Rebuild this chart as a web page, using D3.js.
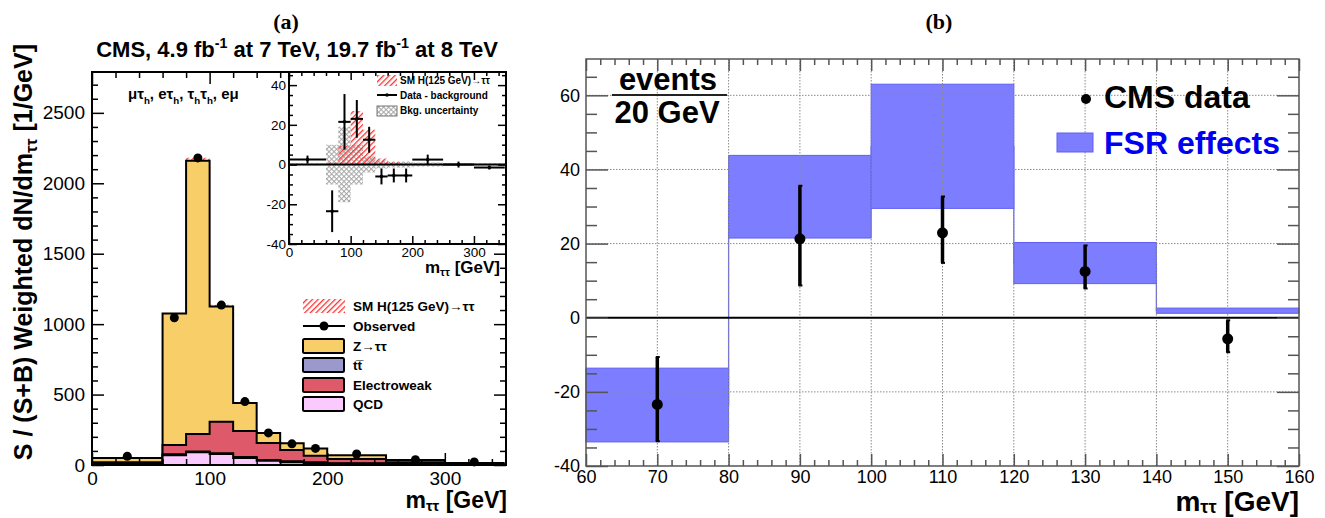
<!DOCTYPE html>
<html>
<head>
<meta charset="utf-8">
<script src="https://cdnjs.cloudflare.com/ajax/libs/d3/7.8.5/d3.min.js"></script>
<style>
body { margin: 0; background: #fff; }
svg { display: block; font-family: "Liberation Sans", Arial, sans-serif; }
</style>
</head>
<body>
<svg id="chart" width="1325" height="518"></svg>
<script>
'use strict';

/* global d3 */

// ---- panel (a): S/(S+B) weighted m_tautau, one value per bin
var binEdges = [0, 60, 80, 100, 120, 140, 160, 180, 200, 250, 300, 350];
var qcd      = [8, 70, 90, 78, 50, 30, 20, 14, 8, 3, 1];
var ttbar    = [4, 6, 6, 6, 6, 6, 6, 5, 5, 4, 3];
var ewk      = [8, 66, 124, 223, 185, 120, 80, 47, 29, 13, 4];
var ztt      = [30, 933, 1940, 818, 199, 72, 49, 52, 28, 15, 7];
var signal   = [0, 4, 22, 12, 6, 2, 1, 0, 0, 0, 0];
var observed = [62, 1045, 2180, 1135, 450, 228, 150, 118, 78, 38, 22];
var mainYTicks = [0, 500, 1000, 1500, 2000, 2500];
var mainXTicks = [0, 100, 200, 300];

// inset: data - background
var insetSignal = [0, 1, 9.5, 27, 17.5, 3, 1, 0, 0, 0, 0];
var insetBkgUnc = [0.5, 10, 19, 10, 4, 2, 1.5, 1.5, 1, 0.5, 0.5];
var insetDiff   = [2.5, -23.5, 21.5, 23, 12.5, -6, -5.5, -5.5, 2.5, 0, -1.5];
var insetErr    = [2, 10.5, 14, 9.5, 6.5, 4, 3.5, 3.5, 2.5, 1.5, 1];
var insetYTicks = [-40, -20, 0, 20, 40];
var insetXTicks = [0, 100, 200, 300];

// ---- panel (b): events / 20 GeV, FSR effects band and CMS data
var fsrEdges = [60, 80, 100, 120, 140, 160];
var fsrLow   = [-33.5, 21.5, 29.5, 9.2, 1.2];
var fsrHigh  = [-13.6, 43.8, 63, 20.3, 2.6];
var cmsX     = [70, 90, 110, 130, 150];
var cmsY     = [-23.4, 21.3, 22.9, 12.5, -5.7];
var cmsLo    = [-33.3, 8.7, 14.8, 7.9, -9.3];
var cmsHi    = [-10.6, 35.6, 32.7, 19.5, -0.7];
var bXTicks  = [60, 70, 80, 90, 100, 110, 120, 130, 140, 150, 160];
var bYTicks  = [-40, -20, 0, 20, 40, 60];

var svg = d3.select("#chart");

var COL_ZTT = "#f8ce68";
var COL_TT = "#9b98cc";
var COL_EWK = "#de5a6a";
var COL_QCD = "#facaff";

function range(a, b, step) {
    return d3.range(a, b + step / 2, step);
}

// text with sub/superscript parts: [[text, "sub"|"sup"|null], ...]
function richText(textSel, parts, size, subShift) {
    var shift = 0;
    var sub = subShift == null ? 0.3 : subShift;
    parts.forEach(function (p) {
        var t = textSel.append("tspan").text(p[0]);
        var target = p[1] === "sub" ? size * sub : (p[1] === "sup" ? -size * 0.42 : 0);
        if (target !== shift) {
            t.attr("dy", target - shift);
            shift = target;
        }
        if (p[1]) {
            t.style("font-size", (size * 0.65) + "px");
        }
    });
    return textSel;
}

function addAxis(g, axis, tx, ty, fontSize, color) {
    var ax = g.append("g")
        .attr("transform", "translate(" + tx + "," + ty + ")")
        .call(axis)
        .attr("font-family", null)
        .attr("font-size", fontSize);
    ax.select(".domain").remove();
    ax.selectAll("line").attr("stroke", color).attr("stroke-width", 1.5);
    ax.selectAll("text").attr("fill", "#000");
    return ax;
}

// major + minor inward ticks on all four sides of a frame
function frameTicks(g, x, y, box, opt) {
    var xMinor = opt.xMinor.filter(function (v) { return opt.xMajor.indexOf(v) < 0; });
    var yMinor = opt.yMinor.filter(function (v) { return opt.yMajor.indexOf(v) < 0; });
    var fmt = function (d) { return String(d); };

    addAxis(g, d3.axisBottom(x).tickValues(opt.xMajor).tickSizeInner(-opt.xLen).tickSizeOuter(0)
        .tickPadding(opt.xPad).tickFormat(fmt), 0, box.bottom, opt.font, opt.color);
    addAxis(g, d3.axisBottom(x).tickValues(xMinor).tickSizeInner(-opt.xLen / 2).tickSizeOuter(0)
        .tickFormat(""), 0, box.bottom, opt.font, opt.color);
    addAxis(g, d3.axisTop(x).tickValues(opt.xMajor).tickSizeInner(-opt.xLen).tickSizeOuter(0)
        .tickFormat(""), 0, box.top, opt.font, opt.color);
    addAxis(g, d3.axisTop(x).tickValues(xMinor).tickSizeInner(-opt.xLen / 2).tickSizeOuter(0)
        .tickFormat(""), 0, box.top, opt.font, opt.color);

    addAxis(g, d3.axisLeft(y).tickValues(opt.yMajor).tickSizeInner(-opt.yLen).tickSizeOuter(0)
        .tickPadding(opt.yPad).tickFormat(fmt), box.left, 0, opt.font, opt.color);
    addAxis(g, d3.axisLeft(y).tickValues(yMinor).tickSizeInner(-opt.yLen / 2).tickSizeOuter(0)
        .tickFormat(""), box.left, 0, opt.font, opt.color);
    addAxis(g, d3.axisRight(y).tickValues(opt.yMajor).tickSizeInner(-opt.yLen).tickSizeOuter(0)
        .tickFormat(""), box.right, 0, opt.font, opt.color);
    addAxis(g, d3.axisRight(y).tickValues(yMinor).tickSizeInner(-opt.yLen / 2).tickSizeOuter(0)
        .tickFormat(""), box.right, 0, opt.font, opt.color);
}

// step points for a binned histogram (last value repeated at the upper edge)
function stepPoints(edges, lo, hi) {
    return edges.map(function (e, i) {
        var k = Math.min(i, lo.length - 1);
        return {x: e, y0: lo[k], y1: hi[k]};
    });
}

function defs() {
    var d = svg.append("defs");
    // red "////" hatch
    var red = d.append("pattern").attr("id", "redHatch")
        .attr("patternUnits", "userSpaceOnUse").attr("width", 4).attr("height", 4)
        .attr("patternTransform", "rotate(45)");
    red.append("rect").attr("x", 0).attr("y", 0).attr("width", 1.3).attr("height", 4).attr("fill", "#ff3030");

    // grey cross hatch
    var grey = d.append("pattern").attr("id", "greyHatch")
        .attr("patternUnits", "userSpaceOnUse").attr("width", 3.5).attr("height", 3.5)
        .attr("patternTransform", "rotate(45)");
    grey.append("rect").attr("x", 0).attr("y", 0).attr("width", 1).attr("height", 3.5).attr("fill", "#a5a5a5");
    grey.append("rect").attr("x", 0).attr("y", 0).attr("width", 3.5).attr("height", 1).attr("fill", "#a5a5a5");
}

function drawPanelA() {
    var box = {left: 92, right: 506, top: 72, bottom: 465};
    var x = d3.scaleLinear().domain([0, 352]).range([box.left, box.right]);
    var y = d3.scaleLinear().domain([0, 2790]).range([box.bottom, box.top]);
    var g = svg.append("g").attr("class", "panel-a");

    g.append("text").attr("x", 286).attr("y", 29).attr("text-anchor", "middle")
        .style("font-family", "'Liberation Serif', 'Times New Roman', serif")
        .style("font-weight", "bold").style("font-size", "22px").text("(a)");

    richText(g.append("text").attr("x", 297).attr("y", 57).attr("text-anchor", "middle")
        .style("font-weight", "bold").style("font-size", "22px"),
        [["CMS, 4.9 fb", null], ["-1", "sup"], [" at 7 TeV, 19.7 fb", null], ["-1", "sup"], [" at 8 TeV", null]], 22);

    // stacked backgrounds + signal
    var rows = qcd.map(function (v, i) {
        return {qcd: v, tt: ttbar[i], ewk: ewk[i], ztt: ztt[i], sig: signal[i]};
    });
    var series = d3.stack().keys(["qcd", "tt", "ewk", "ztt", "sig"])(rows);
    var fills = {qcd: COL_QCD, tt: COL_TT, ewk: COL_EWK, ztt: COL_ZTT, sig: "url(#redHatch)"};

    var area = d3.area().curve(d3.curveStepAfter)
        .x(function (d) { return x(d.x); })
        .y0(function (d) { return y(d.y0); })
        .y1(function (d) { return y(d.y1); });

    // draw from the top layer down so each outline stays visible
    series.slice().reverse().forEach(function (s) {
        var lo = s.map(function (d) { return d[0]; });
        var hi = s.map(function (d) { return d[1]; });
        var pts = stepPoints(binEdges, s.key === "sig" ? lo : lo.map(function () { return 0; }), hi);
        g.append("path")
            .attr("d", area(pts))
            .attr("fill", fills[s.key])
            .attr("stroke", s.key === "sig" ? "none" : "#000")
            .attr("stroke-width", 2);
    });

    // observed points
    g.selectAll("circle.obs").data(observed).enter()
        .append("circle").attr("class", "obs")
        .attr("cx", function (d, i) { return x((binEdges[i] + binEdges[i + 1]) / 2); })
        .attr("cy", function (d) { return y(d); })
        .attr("r", 4.5).attr("fill", "#000");

    frameTicks(g, x, y, box, {
        xMajor: mainXTicks, xMinor: range(0, 340, 20), yMajor: mainYTicks, yMinor: range(0, 2700, 100),
        xLen: 12, yLen: 12, xPad: 7, yPad: 7, font: 19, color: "#000"
    });
    g.append("rect").attr("x", box.left).attr("y", box.top)
        .attr("width", box.right - box.left).attr("height", box.bottom - box.top)
        .attr("fill", "none").attr("stroke", "#000").attr("stroke-width", 2);

    // channel label
    richText(g.append("text").attr("x", 128).attr("y", 99)
        .style("font-weight", "bold").style("font-size", "15px"),
        [["\u03bc\u03c4", null], ["h", "sub"], [", e\u03c4", null], ["h", "sub"], [", \u03c4", null], ["h", "sub"],
            ["\u03c4", null], ["h", "sub"], [", e\u03bc", null]], 15);

    // axis titles
    richText(g.append("text").attr("transform", "translate(32,44) rotate(-90)").attr("text-anchor", "end")
        .style("font-weight", "bold").style("font-size", "25px"),
        [["S / (S+B) Weighted dN/dm", null], ["\u03c4\u03c4", "sub"], [" [1/GeV]", null]], 25, 0.2);
    richText(g.append("text").attr("x", 507).attr("y", 508).attr("text-anchor", "end")
        .style("font-weight", "bold").style("font-size", "23px"),
        [["m", null], ["\u03c4\u03c4", "sub"], [" [GeV]", null]], 23, 0.12);

    // legend
    var lg = g.append("g").style("font-weight", "bold").style("font-size", "13.5px");
    lg.append("rect").attr("x", 303).attr("y", 299).attr("width", 42).attr("height", 14).attr("fill", "url(#redHatch)");
    lg.append("text").attr("x", 353).attr("y", 311).text("SM H(125 GeV)\u2192\u03c4\u03c4");
    lg.append("line").attr("x1", 303).attr("x2", 345).attr("y1", 326).attr("y2", 326)
        .attr("stroke", "#000").attr("stroke-width", 2);
    lg.append("circle").attr("cx", 324).attr("cy", 326).attr("r", 4.5).attr("fill", "#000");
    lg.append("text").attr("x", 353).attr("y", 331).text("Observed");
    var boxes = [
        {label: "Z\u2192\u03c4\u03c4", color: COL_ZTT, y: 339},
        {label: "tt\u0305", color: COL_TT, y: 358},
        {label: "Electroweak", color: COL_EWK, y: 378},
        {label: "QCD", color: COL_QCD, y: 397}
    ];
    boxes.forEach(function (b) {
        lg.append("rect").attr("x", 303).attr("y", b.y).attr("width", 41).attr("height", 14).attr("rx", 1.5)
            .attr("fill", b.color).attr("stroke", "#000").attr("stroke-width", 2);
        lg.append("text").attr("x", 353).attr("y", b.y + 12).text(b.label);
    });
}

function drawInset() {
    var box = {left: 289, right: 506, top: 72, bottom: 244};
    var x = d3.scaleLinear().domain([0, 352]).range([box.left, box.right]);
    var y = d3.scaleLinear().domain([-40, 46.6]).range([box.bottom, box.top]);
    var g = svg.append("g").attr("class", "inset");

    g.append("rect").attr("x", box.left).attr("y", box.top)
        .attr("width", box.right - box.left).attr("height", box.bottom - box.top).attr("fill", "#fff");

    var area = d3.area().curve(d3.curveStepAfter)
        .x(function (d) { return x(d.x); })
        .y0(function (d) { return y(d.y0); })
        .y1(function (d) { return y(d.y1); });

    var uncLo = insetBkgUnc.map(function (v) { return -v; });
    g.append("path").attr("d", area(stepPoints(binEdges, uncLo, insetBkgUnc))).attr("fill", "url(#greyHatch)");
    g.append("path").attr("d", area(stepPoints(binEdges, insetSignal.map(function () { return 0; }), insetSignal)))
        .attr("fill", "url(#redHatch)");

    g.append("line").attr("x1", box.left).attr("x2", box.right).attr("y1", y(0)).attr("y2", y(0))
        .attr("stroke", "#000").attr("stroke-width", 2);

    var pts = g.selectAll("g.pt").data(insetDiff).enter().append("g").attr("class", "pt");
    pts.append("line")
        .attr("x1", function (d, i) { return x(binEdges[i]); })
        .attr("x2", function (d, i) { return x(binEdges[i + 1]); })
        .attr("y1", function (d) { return y(d); })
        .attr("y2", function (d) { return y(d); })
        .attr("stroke", "#000").attr("stroke-width", 2);
    pts.append("line")
        .attr("x1", function (d, i) { return x((binEdges[i] + binEdges[i + 1]) / 2); })
        .attr("x2", function (d, i) { return x((binEdges[i] + binEdges[i + 1]) / 2); })
        .attr("y1", function (d, i) { return y(d - insetErr[i]); })
        .attr("y2", function (d, i) { return y(d + insetErr[i]); })
        .attr("stroke", "#000").attr("stroke-width", 2);
    pts.append("circle")
        .attr("cx", function (d, i) { return x((binEdges[i] + binEdges[i + 1]) / 2); })
        .attr("cy", function (d) { return y(d); })
        .attr("r", 1.8).attr("fill", "#000");

    frameTicks(g, x, y, box, {
        xMajor: insetXTicks, xMinor: range(0, 340, 20), yMajor: insetYTicks, yMinor: range(-40, 45, 5),
        xLen: 8, yLen: 8, xPad: 3.5, yPad: 3, font: 13.5, color: "#000"
    });
    g.append("rect").attr("x", box.left).attr("y", box.top)
        .attr("width", box.right - box.left).attr("height", box.bottom - box.top)
        .attr("fill", "none").attr("stroke", "#000").attr("stroke-width", 2);

    richText(g.append("text").attr("x", 500).attr("y", 273).attr("text-anchor", "end")
        .style("font-weight", "bold").style("font-size", "17px"),
        [["m", null], ["\u03c4\u03c4", "sub"], [" [GeV]", null]], 17, 0.15);

    // inset legend
    var lg = g.append("g").style("font-weight", "bold").style("font-size", "10px");
    lg.append("rect").attr("x", 377).attr("y", 75).attr("width", 20).attr("height", 11).attr("fill", "url(#redHatch)");
    lg.append("text").attr("x", 400).attr("y", 84).text("SM H(125 GeV)\u2192\u03c4\u03c4");
    lg.append("line").attr("x1", 377).attr("x2", 397).attr("y1", 95).attr("y2", 95)
        .attr("stroke", "#000").attr("stroke-width", 2);
    lg.append("circle").attr("cx", 387).attr("cy", 95).attr("r", 1.8).attr("fill", "#000");
    lg.append("text").attr("x", 400).attr("y", 99).text("Data - background");
    lg.append("rect").attr("x", 377).attr("y", 106).attr("width", 20).attr("height", 10)
        .attr("fill", "url(#greyHatch)").attr("stroke", "#777").attr("stroke-width", 1);
    lg.append("text").attr("x", 400).attr("y", 114).text("Bkg. uncertainty");
}

function drawPanelB() {
    var box = {left: 586, right: 1299, top: 59, bottom: 466};
    var x = d3.scaleLinear().domain([60, 160]).range([box.left, box.right]);
    var y = d3.scaleLinear().domain([-40, 69.8]).range([box.bottom, box.top]);
    var g = svg.append("g").attr("class", "panel-b");

    g.append("text").attr("x", 939).attr("y", 29).attr("text-anchor", "middle")
        .style("font-family", "'Liberation Serif', 'Times New Roman', serif")
        .style("font-weight", "bold").style("font-size", "22px").text("(b)");

    // outline through the band centres, visible only between the boxes
    var mids = fsrLow.map(function (v, i) { return (v + fsrHigh[i]) / 2; });
    var line = d3.line().curve(d3.curveStepAfter)
        .x(function (d) { return x(d.x); })
        .y(function (d) { return y(d.y1); });
    g.append("path").attr("d", line(stepPoints(fsrEdges, mids, mids)))
        .attr("fill", "none").attr("stroke", "#6b6bff").attr("stroke-width", 1.3);

    g.selectAll("rect.fsr").data(fsrLow).enter()
        .append("rect").attr("class", "fsr")
        .attr("x", function (d, i) { return x(fsrEdges[i]); })
        .attr("width", function (d, i) { return x(fsrEdges[i + 1]) - x(fsrEdges[i]); })
        .attr("y", function (d, i) { return y(fsrHigh[i]); })
        .attr("height", function (d, i) { return y(d) - y(fsrHigh[i]); })
        .attr("fill", "#7d7dff").attr("stroke", "#5f5ff5").attr("stroke-width", 1);

    // dotted grid
    var grid = g.append("g").attr("stroke", "#8a8a8a").attr("stroke-width", 1).attr("stroke-dasharray", "1.5,1.5");
    bXTicks.slice(1, -1).forEach(function (v) {
        grid.append("line").attr("x1", x(v)).attr("x2", x(v)).attr("y1", box.top).attr("y2", box.bottom);
    });
    bYTicks.filter(function (v) { return v !== 0 && v !== -40; }).forEach(function (v) {
        grid.append("line").attr("x1", box.left).attr("x2", box.right).attr("y1", y(v)).attr("y2", y(v));
    });

    g.append("line").attr("x1", box.left).attr("x2", box.right).attr("y1", y(0)).attr("y2", y(0))
        .attr("stroke", "#000").attr("stroke-width", 2);

    // CMS data
    var pts = g.selectAll("g.cms").data(cmsY).enter().append("g").attr("class", "cms");
    pts.append("line")
        .attr("x1", function (d, i) { return x(cmsX[i]); })
        .attr("x2", function (d, i) { return x(cmsX[i]); })
        .attr("y1", function (d, i) { return y(cmsLo[i]); })
        .attr("y2", function (d, i) { return y(cmsHi[i]); })
        .attr("stroke", "#000").attr("stroke-width", 3.5);
    [cmsLo, cmsHi].forEach(function (arr) {
        pts.append("line")
            .attr("x1", function (d, i) { return x(cmsX[i]) - 1.5; })
            .attr("x2", function (d, i) { return x(cmsX[i]) + 2.5; })
            .attr("y1", function (d, i) { return y(arr[i]); })
            .attr("y2", function (d, i) { return y(arr[i]); })
            .attr("stroke", "#000").attr("stroke-width", 2);
    });
    pts.append("circle")
        .attr("cx", function (d, i) { return x(cmsX[i]); })
        .attr("cy", function (d) { return y(d); })
        .attr("r", 5.5).attr("fill", "#000");

    frameTicks(g, x, y, box, {
        xMajor: bXTicks, xMinor: range(60, 160, 2), yMajor: bYTicks, yMinor: range(-40, 65, 5),
        xLen: 12, yLen: 22, xPad: 4, yPad: 6, font: 18, color: "#555"
    });
    g.append("rect").attr("x", box.left).attr("y", box.top)
        .attr("width", box.right - box.left).attr("height", box.bottom - box.top)
        .attr("fill", "none").attr("stroke", "#555").attr("stroke-width", 1.5);

    // events / 20 GeV
    var t = g.append("g").style("font-weight", "bold").style("font-size", "31px");
    t.append("text").attr("x", 668).attr("y", 90).attr("text-anchor", "middle").text("events");
    t.append("line").attr("x1", 612).attr("x2", 727).attr("y1", 95).attr("y2", 95)
        .attr("stroke", "#222").attr("stroke-width", 2);
    t.append("text").attr("x", 667).attr("y", 123).attr("text-anchor", "middle").text("20 GeV");

    // legend
    var lg = g.append("g").style("font-weight", "bold").style("font-size", "32px");
    lg.append("circle").attr("cx", 1086).attr("cy", 99).attr("r", 5).attr("fill", "#000");
    lg.append("text").attr("x", 1104).attr("y", 108).attr("fill", "#000").text("CMS data");
    lg.append("rect").attr("x", 1057).attr("y", 133).attr("width", 36).attr("height", 19)
        .attr("fill", "#7d7dff").attr("stroke", "#5f5ff5").attr("stroke-width", 1);
    lg.append("text").attr("x", 1104).attr("y", 154).attr("fill", "#0000f0").text("FSR effects");

    richText(g.append("text").attr("x", 1299).attr("y", 511).attr("text-anchor", "end")
        .style("font-weight", "bold").style("font-size", "28px"),
        [["m", null], ["\u03c4\u03c4", "sub"], [" [GeV]", null]], 28, 0.08);
}

defs();
drawPanelA();
drawInset();
drawPanelB();
</script>
</body>
</html>
